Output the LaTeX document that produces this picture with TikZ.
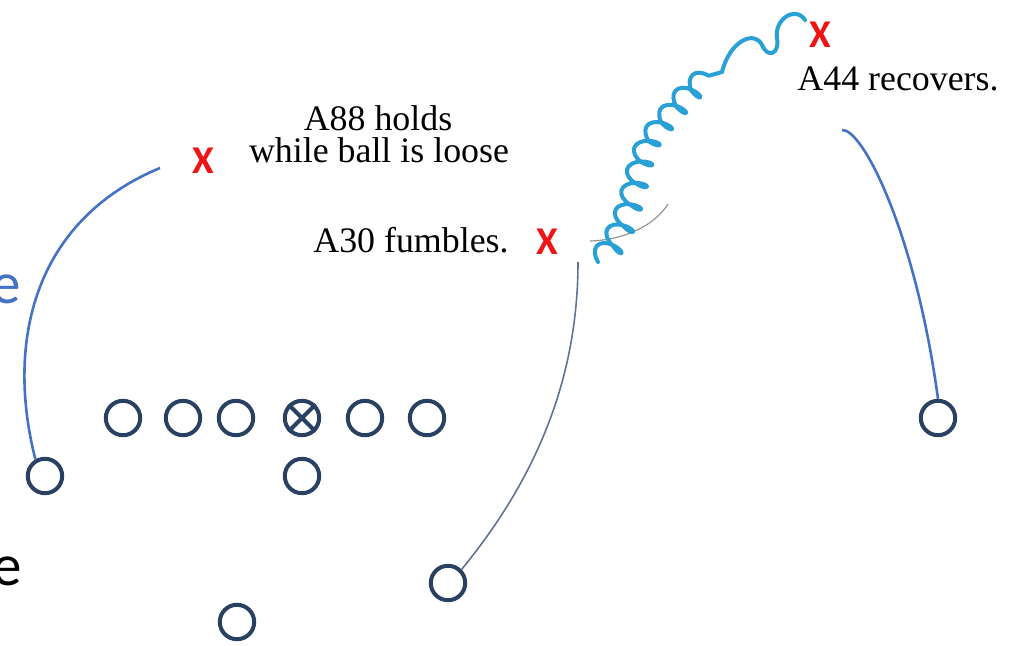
\documentclass[tikz,border=0pt]{standalone}
\usepackage{fontspec}
\setmainfont{Liberation Serif}
\newfontfamily\calibri{Carlito}
\usetikzlibrary{decorations.pathmorphing}
\definecolor{navy}{RGB}{40,64,98}
\definecolor{routeblue}{RGB}{68,114,196}
\definecolor{penblue}{RGB}{41,161,214}
\definecolor{markred}{RGB}{240,20,20}
\tikzset{
  player/.style={circle, draw=navy, line width=0.1cm, minimum size=0.86cm, inner sep=0pt},
  spot/.style={text=markred, font=\calibri\bfseries\fontsize{28}{28}\selectfont, inner sep=0pt},
  note/.style={font=\fontsize{25.5}{26}\selectfont, inner sep=0pt, anchor=base},
  cut/.style={font=\calibri\fontsize{42}{42}\selectfont, inner sep=0pt, anchor=base east},
  route/.style={routeblue, line width=0.065cm},
  thinroute/.style={draw={rgb,255:red,96;green,116;blue,150}, line width=0.04cm},
  ballpath/.style={draw={rgb,255:red,150;green,150;blue,150}, line width=0.03cm},
  pen/.style={penblue, line width=0.1cm, line cap=round, line join=round}
}

\begin{document}
\begin{tikzpicture}[x=0.025cm, y=-0.025cm]
    \useasboundingbox (0,0) rectangle (1020,645);
    \clip (0,0) rectangle (1020,645);
    % slide text cut off at the left edge
    \node [cut, text=routeblue] (cutblue) at (21,303) {e};
    \node [cut, text=black] (cutblack) at (22,585) {e};
    % formation
    \node [player] (lt) at (123,418) {};
    \node [player] (lg) at (183,418) {};
    \node [player] (ctl) at (236,418) {};
    \node [player] (ctr) at (302,418) {};
    \draw [navy, line width=0.1cm] (ctr.45) -- (ctr.225) (ctr.135) -- (ctr.315);
    \node [player] (rg) at (365,418) {};
    \node [player] (rt) at (427,418) {};
    \node [player] (wl) at (45,476) {};
    \node [player] (qb) at (302,476) {};
    \node [player] (rb) at (237,622) {};
    \node [player] (sb) at (448,583) {};
    \node [player] (wr) at (938,418) {};
    % spots and notes
    \node [spot] (x88) at (203,161) {X};
    \node [spot] (x30) at (547,242) {X};
    \node [spot] (x44) at (820,35) {X};
    \node [note] (hold1) at (378,130) {A88 holds};
    \node [note] (hold2) at (379,162) {while ball is loose};
    \node [note] (fum) at (411,252) {A30 fumbles.};
    \node [note] (rec) at (898,90) {A44 recovers.};
    % routes
    \coordinate (end88) at (160,168);
    \coordinate (end30) at (578,262);
    \coordinate (end44) at (842,130);
    \draw [route] (wl.120) .. controls (5,340) and (35,220) .. (end88);
    \draw [thinroute] (sb.45) .. controls (535,480) and (578,380) .. (end30);
    \draw [route] (end44) .. controls (862,128) and (915,230) .. (wr.north);
    % loose ball
    \coordinate (g1) at (590,241);
    \coordinate (g2) at (668,204);
    \draw [ballpath] (g1) .. controls (625,240) and (655,225) .. (g2);
    \coordinate (loose) at (598,262);
    \coordinate (tangle) at (722,72);
    \coordinate (grab) at (805,20);
    \draw [pen, decorate, decoration={coil, amplitude=2.9mm, segment length=5.5mm}]
        (loose) .. controls (640,215) and (630,160) .. (660,130)
        .. controls (680,100) and (700,80) .. (tangle);
    \draw [pen] (tangle) .. controls (730,40) and (755,30) .. (762,45)
        .. controls (767,58) and (780,55) .. (777,38)
        .. controls (774,20) and (795,5) .. (grab);
\end{tikzpicture}
\end{document}
